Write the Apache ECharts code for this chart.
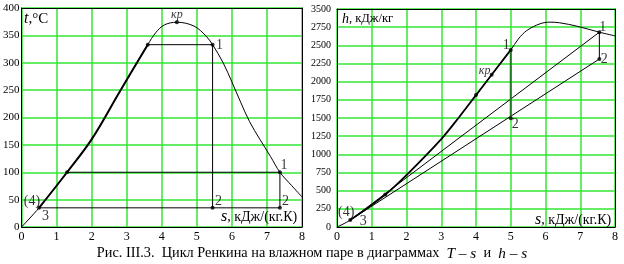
<!DOCTYPE html>
<html><head><meta charset="utf-8">
<script src="https://cdn.jsdelivr.net/npm/echarts@6/dist/echarts.min.js"></script>
<style>html,body{margin:0;padding:0;background:#fff}#c{width:624px;height:264px}</style>
</head><body><div id="c"></div>
<script>
// ---------- data: T-s diagram ----------
const tsDome = [[0,0],[0.5,35],[1.3,100],[2.0,160],[2.8,247],[3.6,333],[3.83,355],[4.07,369],[4.43,374],[4.92,367],[5.26,349],[5.45,333],[5.75,300],[6.0,265],[6.25,228],[6.5,193],[6.8,160],[7.1,129],[7.37,100],[7.7,76],[8.0,55]];
const tsHeat = [[0.5,35],[1.3,100],[2.0,160],[2.8,247],[3.6,333]];
const tsCycle = [
  [[3.6,333],[5.45,333]],
  [[5.45,333],[5.45,35]],
  [[0.5,35],[7.37,35]],
  [[1.3,100],[7.37,100]],
  [[7.37,100],[7.37,35]]
];
const tsPoints = [[0.5,35],[1.3,100],[3.6,333],[4.43,374],[5.45,333],[5.45,35],[7.37,100],[7.37,35]];
const tsPointNames = ['3','','','кр','1','2','1','2'];
const tTickLabels = ['0','50','100','150','200','250','300','350','400'];

// ---------- data: h-s diagram ----------
const hsDome = [[0,0],[0.38,95],[1.39,446],[2.0,715],[3.0,1210],[3.54,1528],[4.0,1815],[4.45,2095],[5.0,2437],[5.22,2588],[5.46,2703],[5.84,2796],[6.13,2819],[6.41,2810],[6.9,2764],[7.55,2681],[8.0,2630]];
const hsHeat = [[0.38,95],[1.39,446],[2.0,715],[3.0,1210],[3.54,1528],[4.0,1815],[4.45,2095],[5.0,2437]];
const hsCycle = [
  [[0.38,95],[7.55,2681]],
  [[0.38,95],[7.55,2312]],
  [[7.55,2681],[7.55,2312]]
];
const hsExpansion = [[5.0,2437],[5.0,1497]];
const hsPoints = [[0.38,95],[1.39,446],[4.0,1815],[4.45,2095],[5.0,2437],[5.0,1497],[7.55,2681],[7.55,2312]];
const hsPointNames = ['3','','','кр','1','2','1','2'];
const hTickLabels = ['0','250','500','750','1000','1250','1500','1750','2000','2250','2500','2750','3500'];
const sTickLabels = ['0','1','2','3','4','5','6','7','8'];

// ---------- styling ----------
const SERIF = 'Liberation Serif';
const GREEN = '#33e633';
// label centre offsets from the marker (pixels)
const tsLabelOffset = [[6.5,8.5], null, null, [0,-7], [7,1], [6,-7], [4,-6.5], [5.5,-7]];
const hsLabelOffset = [[13,1], null, null, [-7,-4], [-4.5,-5], [4.5,6.5], [3.5,-4.5], [5,0]];

function pointsSeries(pts, names, offs, xi, yi) {
  return {
    type:'scatter', xAxisIndex:xi, yAxisIndex:yi, symbolSize:4, z:6,
    itemStyle:{color:'#000'},
    data: pts.map((p,i)=>{
      const item = {value:p};
      if (names[i] && offs[i]) {
        const it = names[i]==='кр';
        item.label = {show:true, formatter:names[i], position:'inside', offset:offs[i],
          fontFamily:SERIF, fontSize: it?12:14, fontStyle: it?'italic':'normal', color:'#000'};
      }
      return item;
    })
  };
}
function lineSeries(data, xi, yi, w, smooth, color) {
  return {type:'line', xAxisIndex:xi, yAxisIndex:yi, data:data, showSymbol:false, symbol:'none',
    smooth:smooth||false, lineStyle:{color:color||'#000', width:w}, z:4, silent:true};
}
function xAx(gi) {
  return {type:'value', gridIndex:gi, min:0, max:8, interval:1,
    axisLine:{show:true, lineStyle:{color:'#000', width:1}}, axisTick:{show:false},
    axisLabel:{color:'#000', fontFamily:SERIF, fontSize:12, margin:4, formatter:v=>sTickLabels[v]},
    splitLine:{show:true, lineStyle:{color:GREEN, width:1.5}}};
}
function frameAx(gi, pos, min, max) {
  return {type:'value', gridIndex:gi, position:pos, min:min, max:max, z:8,
    axisLine:{show:true, onZero:false, lineStyle:{color:'#000', width:1}}, axisTick:{show:false},
    axisLabel:{show:false}, splitLine:{show:false}};
}
function fourLabel(pt, off, xi, yi) {
  return {type:'scatter', xAxisIndex:xi, yAxisIndex:yi, symbolSize:0, z:6,
    data:[{value:pt, label:{show:true, formatter:'(4)', position:'inside', offset:off,
      fontFamily:SERIF, fontSize:14, color:'#000'}}]};
}

const series = [];
series.push(lineSeries(tsDome,0,0,1,0.35));
series.push(lineSeries(tsHeat,0,0,2,0.35));
tsCycle.forEach(seg=>series.push(lineSeries(seg,0,0,1)));
series.push(pointsSeries(tsPoints, tsPointNames, tsLabelOffset, 0, 0));
series.push(fourLabel(tsPoints[0], [-7,-6.5], 0, 0));

series.push(lineSeries(hsDome,1,1,1,0.35));
series.push(lineSeries(hsHeat,1,1,1.8,0.35));
hsCycle.forEach(seg=>series.push(lineSeries(seg,1,1,1)));
series.push(lineSeries(hsExpansion,1,1,2,false,'#1f7a1f'));
series.push(pointsSeries(hsPoints, hsPointNames, hsLabelOffset, 1, 1));
series.push(fourLabel(hsPoints[0], [-4,-8], 1, 1));

const option = {
  animation:false,
  backgroundColor:'#fff',
  grid:[
    {left:21, top:8, width:281, height:219},
    {left:337, top:9, width:278, height:218}
  ],
  xAxis:[xAx(0), xAx(1), frameAx(0,'top',0,8), frameAx(1,'top',0,8)],
  yAxis:[
    {type:'value', gridIndex:0, min:0, max:400, interval:50,
      axisLine:{show:true, lineStyle:{color:'#000', width:1}}, axisTick:{show:false},
      axisLabel:{color:'#000', fontFamily:SERIF, fontSize:11, margin:2, formatter:v=>tTickLabels[v/50]},
      splitLine:{show:true, lineStyle:{color:GREEN, width:1.5}}},
    {type:'value', gridIndex:1, min:0, max:3000, interval:250,
      axisLine:{show:true, lineStyle:{color:'#000', width:1}}, axisTick:{show:false},
      axisLabel:{color:'#000', fontFamily:SERIF, fontSize:10, margin:6, formatter:v=>hTickLabels[v/250]},
      splitLine:{show:true, lineStyle:{color:GREEN, width:1.5}}},
    frameAx(0,'right',0,400), frameAx(1,'right',0,3000)
  ],
  series: series,
  graphic:[
    {type:'text', left:24, top:11, z:10, style:{text:'{i|t},°C', font:'15px "Liberation Serif"', fill:'#000',
      rich:{i:{fontStyle:'italic', fontFamily:SERIF, fontSize:16}}}},
    {type:'text', left:221, top:209, z:10, style:{text:'{i|s}, кДж/(кг.К)', font:'14px "Liberation Serif"', fill:'#000',
      rich:{i:{fontStyle:'italic', fontFamily:SERIF, fontSize:16}}}},
    {type:'text', left:342, top:12, z:10, style:{text:'{i|h}, кДж/кг', font:'12.5px "Liberation Serif"', fill:'#000',
      rich:{i:{fontStyle:'italic', fontFamily:SERIF, fontSize:14}}}},
    {type:'text', left:535, top:212, z:10, style:{text:'{i|s}, кДж/(кг.К)', font:'14px "Liberation Serif"', fill:'#000',
      rich:{i:{fontStyle:'italic', fontFamily:SERIF, fontSize:16}}}},
    {type:'text', left:'center', top:246, z:10, style:{
      text:'Рис. III.3.  Цикл Ренкина на влажном паре в диаграммах  {i|T – s}  и  {i|h – s}',
      font:'14.3px "Liberation Serif"', fill:'#000',
      rich:{i:{fontStyle:'italic', fontFamily:SERIF, fontSize:15.3}}}}
  ]
};
echarts.init(document.getElementById('c'), null, {renderer:'canvas'}).setOption(option);
</script>
</body></html>
